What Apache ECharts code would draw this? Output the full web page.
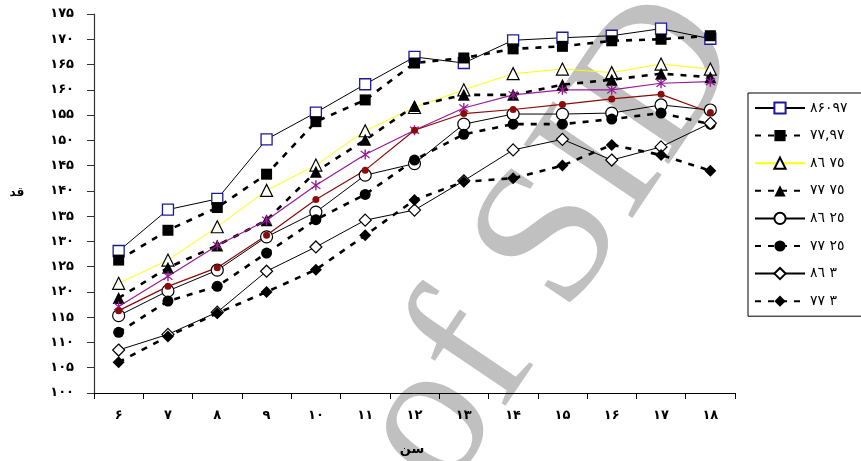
<!DOCTYPE html>
<html>
<head>
<meta charset="utf-8">
<script src="https://cdn.jsdelivr.net/npm/echarts@6/dist/echarts.min.js"></script>
<style>html,body{margin:0;padding:0;background:#fff}#c{width:861px;height:461px}</style>
</head>
<body>
<div id="c"></div>
<script>
var ages = ['۶','۷','۸','۹','۱۰','۱۱','۱۲','۱۳','۱۴','۱۵','۱۶','۱۷','۱۸'];
var yTickLabels = ['۱۰۰','۱۰۵','۱۱۰','۱۱۵','۱۲۰','۱۲۵','۱۳۰','۱۳۵','۱۴۰','۱۴۵','۱۵۰','۱۵۵','۱۶۰','۱۶۵','۱۷۰','۱۷۵'];
var legendNames = ['۸۶۰۹۷','۷۷,۹۷','۸٦ ۷٥','۷۷ ۷٥','۸٦ ۲٥','۷۷ ۲٥','۸٦ ۳','۷۷ ۳'];
var s86_97 = [128.1,136.3,138.4,150.2,155.5,161.1,166.5,165.3,169.8,170.3,170.7,172.1,170.1];
var s77_97 = [126.3,132.2,136.7,143.3,153.7,158.0,165.3,166.3,168.1,168.6,169.7,170.0,170.7];
var s86_75 = [121.7,126.3,132.9,140.1,145.1,151.9,156.5,160.0,163.2,164.1,163.4,165.1,164.1];
var s77_75 = [118.8,124.8,129.2,134.2,143.8,150.1,156.8,159.0,159.0,161.0,162.0,163.2,162.5];
var s86_25 = [115.3,120.2,124.3,130.9,135.8,143.1,145.4,153.2,155.2,155.2,155.4,157.0,156.0];
var s77_25 = [112.0,118.2,121.1,127.7,134.3,139.3,146.1,151.2,153.2,153.2,154.2,155.4,153.2];
var s86_3  = [108.5,111.6,116.0,124.1,128.9,134.2,136.2,142.0,148.1,150.2,146.1,148.7,153.4];
var s77_3  = [106.1,111.2,115.8,120.0,124.4,131.2,138.2,141.8,142.5,145.0,149.1,147.1,144.0];
var sPurple = [117.1,123.1,129.2,134.2,141.1,147.2,152.0,156.4,159.0,160.0,160.0,161.3,161.6];
var sRed    = [116.3,121.1,124.8,131.2,138.3,144.1,152.0,155.3,156.1,157.1,158.2,159.1,155.5];

// asterisk marker path (style only)
function bar(angleDeg){
  var a = angleDeg*Math.PI/180, r = 10, w = 1.1;
  var cx = Math.cos(a), sy = Math.sin(a), nx = -sy, ny = cx;
  var p = [[r*cx+w*nx, r*sy+w*ny],[r*cx-w*nx, r*sy-w*ny],[-r*cx-w*nx,-r*sy-w*ny],[-r*cx+w*nx,-r*sy+w*ny]];
  return 'M'+p.map(function(q){return q[0].toFixed(2)+','+q[1].toFixed(2);}).join('L')+'Z';
}
var starPath = 'path://' + bar(90) + bar(45) + bar(-45);

var FONT = 'DejaVu Sans';
var dash = [6,7];
function mk(name, data, color, width, type, symbol, size, fill, border, bw){
  return {
    name: name, type: 'line', data: data, symbol: symbol, symbolSize: size,
    lineStyle: {color: color, width: width, type: type},
    itemStyle: {color: fill, borderColor: border, borderWidth: bw},
    emphasis: {disabled: true}, animation: false, z: 3
  };
}
var series = [
  mk(legendNames[0], s86_97, '#000', 1, 'solid', 'rect', 11, '#fff', '#1a1a9a', 1.3),
  mk(legendNames[1], s77_97, '#000', 2.6, dash, 'rect', 11, '#000', '#000', 0),
  mk(legendNames[2], s86_75, '#ffff00', 1, 'solid', 'triangle', 12, '#fff', '#000', 1.2),
  mk(legendNames[3], s77_75, '#000', 2.6, dash, 'triangle', 12, '#000', '#000', 0),
  mk(legendNames[4], s86_25, '#000', 1, 'solid', 'circle', 12, '#fff', '#000', 1.2),
  mk(legendNames[5], s77_25, '#000', 2.6, dash, 'circle', 11, '#000', '#000', 0),
  mk(legendNames[6], s86_3, '#000', 1, 'solid', 'diamond', 12, '#fff', '#000', 1.2),
  mk(legendNames[7], s77_3, '#000', 2.6, dash, 'diamond', 12, '#000', '#000', 0),
  mk('purple', sPurple, '#9a1a9a', 1.2, 'solid', starPath, 10, '#9a1a9a', '#9a1a9a', 0),
  mk('darkred', sRed, '#8b0a0a', 1.2, 'solid', 'circle', 7, '#8b0a0a', '#8b0a0a', 0)
];

var chart = echarts.init(document.getElementById('c'), null, {renderer: 'canvas'});
chart.setOption({
  animation: false,
  backgroundColor: '#fff',
  grid: {left: 94, right: 126, top: 14, bottom: 68, containLabel: false},
  xAxis: {
    type: 'category', data: ages, boundaryGap: true,
    axisLine: {lineStyle: {color: '#000', width: 1}},
    axisTick: {show: true, length: 6, alignWithLabel: false, lineStyle: {color: '#000'}},
    axisLabel: {fontFamily: FONT, fontSize: 13, fontWeight: 'bold', color: '#000', margin: 16},
    splitLine: {show: false}
  },
  yAxis: {
    type: 'value', min: 100, max: 175, interval: 5,
    axisLine: {show: true, lineStyle: {color: '#333', width: 1.2}},
    axisTick: {show: true, length: 7, lineStyle: {color: '#333'}},
    axisLabel: {fontFamily: FONT, fontSize: 13, fontWeight: 'bold', color: '#000', margin: 20,
      formatter: function(v){ return yTickLabels[Math.round((v-100)/5)]; }},
    splitLine: {show: false}
  },
  legend: {
    data: legendNames, orient: 'vertical', left: 748, top: 93,
    padding: [8, 40, 8, 6], itemGap: 13.6, itemWidth: 50, itemHeight: 14,
    borderColor: '#000', borderWidth: 1, backgroundColor: '#fff',
    textStyle: {fontFamily: FONT, fontSize: 14, lineHeight: 14, color: '#000'}
  },
  graphic: [
    {type: 'text', x: 552, y: 243, rotation: 56*Math.PI/180, z: 0, silent: true,
      style: {text: 'of SID', font: '200px "Liberation Serif"', fill: '#c0c0c0', align: 'center', verticalAlign: 'middle'}},
    {type: 'text', x: 17, y: 193, z: 10,
      style: {text: 'قد', font: 'bold 12px "DejaVu Sans"', fill: '#000', align: 'center', verticalAlign: 'middle'}},
    {type: 'text', x: 412, y: 450, z: 10,
      style: {text: 'سن', font: 'bold 13px "DejaVu Sans"', fill: '#000', align: 'center', verticalAlign: 'middle'}}
  ],
  series: series
});
</script>
</body>
</html>
